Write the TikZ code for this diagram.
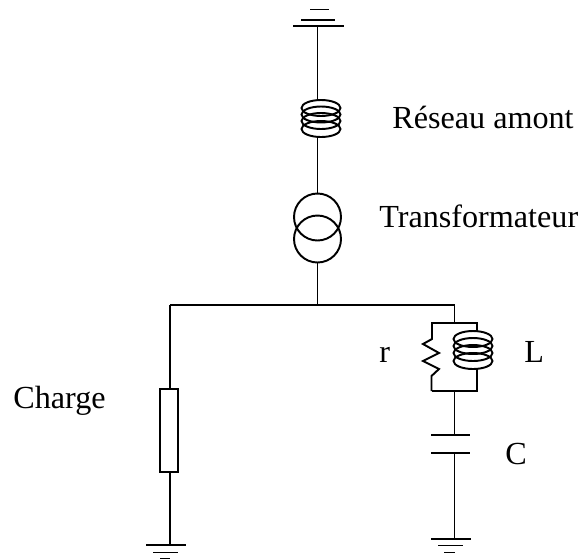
\documentclass[tikz,border=0pt]{standalone}
\usepackage{fontspec}
\setmainfont{Liberation Serif}
\usepackage{tikz}
\usetikzlibrary{calc}

\begin{document}
\begin{tikzpicture}[x=0.02cm,y=-0.02cm,
	        wire/.style={line width=1.1pt},
	        coilturn/.style={line width=1.1pt},
	        label/.style={inner sep=0pt,font=\fontsize{18.3}{20}\selectfont}]
	        \useasboundingbox (0,0) rectangle (581,559);
	        \coordinate (G1) at (317.5,26);
	        \coordinate (S1) at (317.5,100);
	        \coordinate (S2) at (317.5,137);
	        \coordinate (T1) at (317.5,194);
	        \coordinate (T2) at (317.5,262);
	        \coordinate (J) at (317.5,305);
	        \coordinate (JL) at (170,305);
	        \coordinate (JR) at (454.5,305);
	        \coordinate (RU) at (170,389);
	        \coordinate (RD) at (170,472);
	        \coordinate (G2) at (170,545);
	        \coordinate (PU) at (454.5,323);
	        \coordinate (PD) at (454.5,391);
	        \coordinate (C1) at (454.5,435);
	        \coordinate (C2) at (454.5,453);
	        \coordinate (G3) at (454.5,539);
	        \draw[wire] (G1) -- (S1); %top line
	        \draw[wire] (S2) -- (T1);
	        \draw[wire] (T2) -- (J);
	        \draw[wire] (JL) -- (JR); %bus
	        \draw[wire] (RU) -- (JL);
	        \draw[wire] (RD) -- (G2);
	        \draw[wire] (JR) -- (PU);
	        \draw[wire] (PD) -- (C1);
	        \draw[wire] (C2) -- (G3);
	        \draw[wire] (293,26) -- (344,26) (301,20) -- (335,20) (310,9.5) -- (329,9.5); %ground
	        \draw[wire] (146,545) -- (186,545) (153,552.5) -- (178,552.5) (160,558.5) -- (170,558.5);
	        \draw[wire] (431,539) -- (471,539) (438,545.5) -- (463,545.5) (444,552.5) -- (455,552.5);
	        \foreach \y in {108,114.5,121,129} {
	            \draw[coilturn] (321,\y) circle[x radius=19.5,y radius=8]; % source coil
	        }
	        \draw[wire] (317.5,217) circle[radius=23.5]; % transformer
	        \draw[wire] (317.5,239) circle[radius=23.5];
	        \draw[wire] (160,389) rectangle (178,472); % load
	        \draw[wire] (431.5,391) -- (431.5,376) -- (439,369) -- (423,361) -- (439,353) -- (423,344) -- (432,339) -- (432,323) -- (477,323) -- (477,331);
	        \draw[wire] (477,369) -- (477,391) -- (431.5,391);
	        \foreach \y in {339,346,353,361} {
	            \draw[coilturn] (473,\y) circle[x radius=19.5,y radius=8]; % L coil
	        }
	        \draw[wire] (431,435) -- (470,435) (431,453) -- (470,453); % capacitor
	        \node[label,anchor=base west] (reseau) at (392,128) {Réseau amont};
	        \node[label,anchor=base west] (transfo) at (379,227) {Transformateur};
	        \node[label,anchor=base west] (charge) at (13,408) {Charge};
	        \node[label,anchor=base west] (r) at (379,362) {r};
	        \node[label,anchor=base west] (L) at (524,362) {L};
	        \node[label,anchor=base west] (C) at (505,464) {C};
	    \end{tikzpicture}
\end{document}
